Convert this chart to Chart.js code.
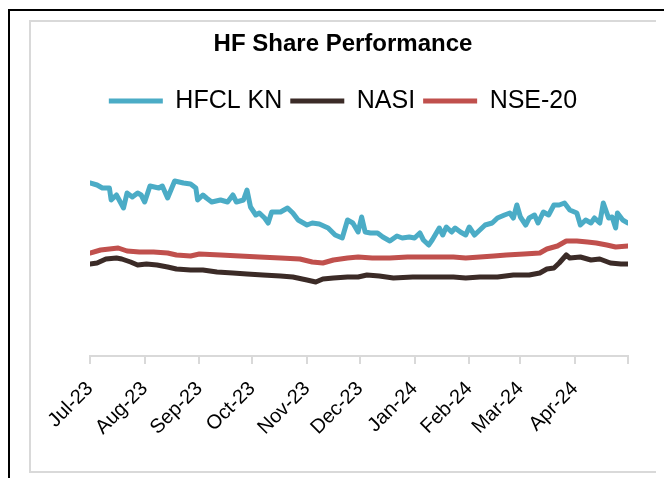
<!DOCTYPE html>
<html>
<head>
<meta charset="utf-8">
<title>HF Share Performance</title>
<script src="https://cdn.jsdelivr.net/npm/chart.js@4.4.1/dist/chart.umd.min.js"></script>
<style>
  html, body { margin: 0; padding: 0; background: #fff; width: 664px; height: 478px; overflow: hidden; }
  .outer { position: absolute; left: 8px; top: 9px; width: 700px; height: 520px;
           border-left: 2px solid #000; border-top: 2px solid #000; }
  .frame { position: absolute; left: 29px; top: 20px; width: 627px; height: 453px; box-sizing: border-box;
           border-top: 2px solid #d9d9d9; border-left: 2px solid #d9d9d9; border-bottom: 2px solid #d9d9d9; }
  #chart { position: absolute; left: 31px; top: 22px; }
</style>
</head>
<body>
<div class="outer"></div>
<div class="frame"></div>
<canvas id="chart" width="624" height="449"></canvas>
<script>
// days counted from 1 Jul 2023, month starts used as axis ticks
const monthStarts = [0, 31, 62, 92, 123, 153, 184, 215, 244, 275, 305];
const monthLabels = ['Jul-23', 'Aug-23', 'Sep-23', 'Oct-23', 'Nov-23', 'Dec-23', 'Jan-24', 'Feb-24', 'Mar-24', 'Apr-24', ''];

// relative performance (index units)
const hfclDays = [0, 4, 7, 11, 12, 15, 19, 21, 24, 27, 29, 31, 34, 39, 41, 44, 48, 53, 57, 60, 61, 64, 66, 69, 74, 78, 81, 83, 87, 89,
  91, 94, 96, 99, 101, 103, 108, 112, 115, 118, 123, 126, 130, 135, 139, 143, 146, 149, 152, 154, 156, 159, 163, 166, 170, 174, 177, 181,
  184, 187, 189, 192, 194, 198, 200, 202, 205, 207, 210, 213, 215, 218, 221, 224, 228, 231, 235, 238, 240, 242, 244, 247, 249, 252, 254,
  257, 260, 263, 266, 269, 272, 276, 278, 281, 284, 286, 289, 291, 294, 296, 298, 299, 302, 305];
const hfclValues = [173, 171, 168, 168, 156, 161, 148, 163, 159, 163, 161, 154, 170, 168, 170, 158, 175, 173, 172, 168, 156, 161, 158, 154, 156, 154, 161, 154, 156, 166,
  149, 141, 143, 138, 133, 144, 144, 148, 143, 136, 131, 133, 132, 128, 121, 118, 136, 133, 124, 139, 124, 123, 123, 119, 115, 120, 118, 119,
  118, 123, 116, 111, 116, 128, 121, 129, 124, 128, 124, 121, 129, 121, 126, 131, 133, 138, 141, 143, 138, 151, 139, 131, 138, 141, 133,
  144, 141, 151, 151, 153, 146, 143, 131, 136, 133, 138, 133, 153, 138, 139, 128, 143, 136, 133];

const nasiDays = [0, 4, 9, 15, 18, 23, 27, 32, 38, 44, 49, 57, 64, 72, 81, 89, 98, 108, 115, 123, 128, 132, 138, 146, 152, 157, 164, 172,
  183, 194, 206, 213, 221, 231, 240, 249, 255, 259, 263, 266, 270, 272, 278, 284, 289, 295, 301, 305];
const nasiValues = [92, 93, 97, 98, 97, 94, 91, 92, 91, 89, 87, 86, 86, 84, 83, 82, 81, 80, 79, 76, 74, 77, 78, 79, 79, 81, 80, 78,
  79, 79, 79, 78, 79, 79, 81, 81, 83, 87, 88, 93, 101, 98, 99, 96, 97, 93, 92, 92];

const nseDays = [0, 6, 11, 16, 21, 28, 36, 44, 49, 57, 62, 74, 85, 96, 108, 119, 126, 132, 138, 146, 152, 160, 170, 180, 189, 198, 206,
  213, 221, 229, 236, 246, 255, 259, 265, 270, 276, 282, 287, 293, 298, 305];
const nseValues = [103, 106, 107, 108, 105, 104, 104, 103, 101, 100, 102, 101, 100, 99, 98, 97, 94, 93, 96, 98, 99, 98, 98, 99, 99, 99, 99,
  98, 99, 100, 101, 102, 103, 107, 110, 115, 115, 114, 113, 111, 109, 110];

const toPoints = (days, values) => days.map((d, i) => ({ x: d, y: values[i] }));

const lineStyle = color => ({
  borderColor: color,
  backgroundColor: color,
  borderWidth: 5,
  borderCapStyle: 'round',
  borderJoinStyle: 'round',
  pointRadius: 0,
  tension: 0,
  fill: false
});

// fixed legend height so the plot area lines up with the picture
const legendHeight = {
  id: 'legendHeight',
  beforeInit(chart) {
    const fit = chart.legend.fit;
    chart.legend.fit = function () {
      fit.bind(chart.legend)();
      this.height = 49.5;
    };
  }
};

const ctx = document.getElementById('chart').getContext('2d');
new Chart(ctx, {
  type: 'line',
  data: {
    datasets: [
      { label: 'HFCL KN', data: toPoints(hfclDays, hfclValues), ...lineStyle('#4bacc6') },
      { label: 'NASI', data: toPoints(nasiDays, nasiValues), ...lineStyle('#3b2b27') },
      { label: 'NSE-20', data: toPoints(nseDays, nseValues), ...lineStyle('#c0504d') }
    ]
  },
  options: {
    responsive: false,
    devicePixelRatio: 1,
    animation: false,
    layout: { padding: 0 },
    plugins: {
      title: {
        display: true,
        text: 'HF Share Performance',
        color: '#000',
        font: { family: 'Liberation Sans', size: 24, weight: 'bold' },
        padding: { top: 8, bottom: 21.7 }
      },
      legend: {
        display: true,
        labels: {
          color: '#000',
          font: { family: 'Liberation Sans', size: 25 },
          usePointStyle: true,
          pointStyle: 'line',
          pointStyleWidth: 54,
          padding: 8
        }
      },
      tooltip: { enabled: false }
    },
    scales: {
      x: {
        type: 'linear',
        min: 0,
        max: 305,
        afterBuildTicks: scale => { scale.ticks = monthStarts.map(v => ({ value: v })); },
        afterFit: scale => {
          scale.height = 115;
          scale.paddingLeft = 0;
          scale.paddingRight = 0;
        },
        grid: { display: true, drawOnChartArea: false, drawTicks: true, tickLength: 8, color: '#d9d9d9', lineWidth: 2 },
        border: { display: true, color: '#d9d9d9', width: 2 },
        ticks: {
          autoSkip: false,
          minRotation: 45,
          maxRotation: 45,
          padding: 13,
          color: '#000',
          font: { family: 'Liberation Sans', size: 20 },
          callback: value => {
            const i = monthStarts.indexOf(value);
            return i >= 0 ? monthLabels[i] : '';
          }
        }
      },
      y: {
        min: 0,
        max: 226,
        afterFit: scale => { scale.width = 59; },
        grid: { display: false },
        border: { display: false },
        ticks: { display: false }
      },
      y2: {
        type: 'linear',
        position: 'right',
        afterFit: scale => { scale.width = 27; },
        grid: { display: false },
        border: { display: false },
        ticks: { display: false }
      }
    }
  },
  plugins: [legendHeight]
});
</script>
</body>
</html>
